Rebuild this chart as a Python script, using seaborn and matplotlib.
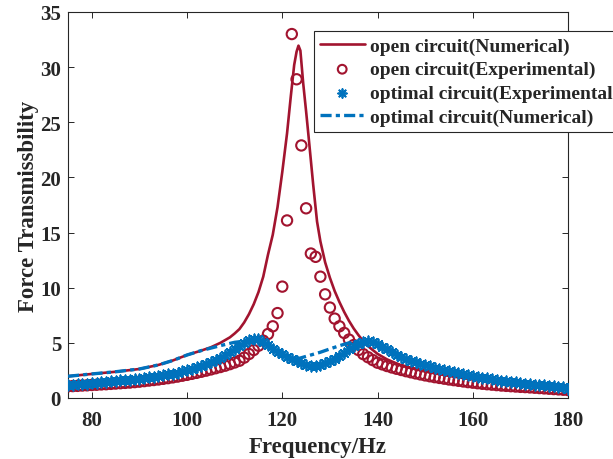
import numpy as np
import pandas as pd
import matplotlib
matplotlib.use("Agg")
import matplotlib.pyplot as plt
import seaborn as sns

# ---------------- data ----------------
freq_exp = list(range(75, 181))

open_exp = [
    1.06, 1.08, 1.10, 1.13, 1.15, 1.18, 1.20, 1.23, 1.25, 1.28,   # 75-84
    1.31, 1.34, 1.37, 1.40, 1.44, 1.48, 1.53, 1.58, 1.63, 1.68,   # 85-94
    1.74, 1.80, 1.87, 1.94, 2.02, 2.10, 2.19, 2.28, 2.38, 2.48,   # 95-104
    2.59, 2.70, 2.81, 2.93, 3.07, 3.22, 3.38, 3.66, 3.99, 4.35,   # 105-114
    4.74, 5.20, 5.80, 6.50, 7.70, 10.1, 16.1, 33.0, 28.9, 22.9,   # 115-124
    17.2, 13.1, 12.8, 11.0, 9.4, 8.2, 7.2, 6.5, 5.9, 5.3,         # 125-134
    4.8, 4.35, 3.98, 3.70, 3.44, 3.20, 3.05, 2.90, 2.77, 2.65,    # 135-144
    2.54, 2.43, 2.33, 2.23, 2.14, 2.05, 1.97, 1.89, 1.82, 1.75,   # 145-154
    1.68, 1.62, 1.56, 1.50, 1.44, 1.39, 1.34, 1.29, 1.25, 1.21,   # 155-164
    1.17, 1.13, 1.10, 1.07, 1.04, 1.01, 0.99, 0.96, 0.93, 0.90,   # 165-174
    0.87, 0.84, 0.81, 0.78, 0.75, 0.72,                           # 175-180
]

opt_exp = [
    1.15, 1.19, 1.23, 1.27, 1.31, 1.35, 1.39, 1.43, 1.47, 1.51,   # 75-84
    1.55, 1.59, 1.63, 1.67, 1.71, 1.75, 1.81, 1.87, 1.93, 2.00,   # 85-94
    2.07, 2.14, 2.22, 2.31, 2.41, 2.52, 2.64, 2.77, 2.92, 3.08,   # 95-104
    3.26, 3.45, 3.66, 3.90, 4.15, 4.45, 4.75, 5.02, 5.25, 5.38,   # 105-114
    5.32, 5.10, 4.80, 4.48, 4.20, 3.95, 3.75, 3.55, 3.35, 3.17,   # 115-124
    3.02, 2.93, 2.92, 3.00, 3.15, 3.35, 3.58, 3.82, 4.10, 4.40,   # 125-134
    4.68, 4.92, 5.10, 5.18, 5.10, 4.90, 4.65, 4.40, 4.16, 3.94,   # 135-144
    3.74, 3.56, 3.40, 3.25, 3.11, 2.98, 2.86, 2.74, 2.63, 2.52,   # 145-154
    2.42, 2.32, 2.23, 2.14, 2.06, 1.98, 1.91, 1.84, 1.77, 1.70,   # 155-164
    1.63, 1.57, 1.51, 1.46, 1.41, 1.36, 1.31, 1.26, 1.22, 1.18,   # 165-174
    1.14, 1.10, 1.06, 1.02, 0.98, 0.85,                           # 175-180
]

freq_open_num = [75, 80, 85, 90, 94, 97, 100, 103, 105, 107, 109, 110, 111, 112,
                 113, 114, 115, 116, 117, 118, 119, 120, 121, 121.8, 122.5, 123,
                 123.4, 123.8, 124.4, 125, 125.5, 126.5, 127.3, 128, 129, 130,
                 131, 132, 133, 134, 135, 136, 137, 138, 140, 142, 145, 150,
                 155, 160, 165, 170, 175, 180]
open_num = [1.97, 2.18, 2.38, 2.63, 3.0, 3.4, 3.9, 4.3, 4.6, 5.0, 5.5, 5.85, 6.25, 6.85,
            7.6, 8.5, 9.6, 11.0, 13.0, 14.8, 17.3, 20.5, 24.0, 27.4, 30.2, 31.4,
            31.95, 31.5, 28.5, 26.0, 23.8, 19.3, 16.0, 14.2, 12.3, 10.9,
            9.7, 8.7, 7.8, 7.0, 6.3, 5.7, 5.15, 4.7, 4.0, 3.5, 2.95, 2.4,
            2.0, 1.68, 1.42, 1.2, 1.0, 0.82]

freq_opt_num = [75, 80, 85, 90, 94, 97, 100, 103, 107, 110, 113, 115, 117, 119,
                121, 122.5, 124, 126, 128, 130, 132, 134, 136, 137.5, 139, 141,
                144, 147, 150, 155, 160, 165, 170, 175, 180]
opt_num = [1.97, 2.18, 2.38, 2.63, 3.0, 3.4, 3.9, 4.3, 4.75, 5.05, 5.2, 5.1, 4.7,
           4.15, 3.65, 3.48, 3.65, 3.9, 4.15, 4.45, 4.74, 5.0, 5.15, 5.18, 5.05,
           4.7, 4.05, 3.5, 3.05, 2.5, 2.05, 1.7, 1.42, 1.18, 0.97]

labels = ["open circuit(Numerical)", "open circuit(Experimental)",
          "optimal circuit(Experimental)", "optimal circuit(Numerical)"]
x_ticks = [80, 100, 120, 140, 160, 180]
y_ticks = [0, 5, 10, 15, 20, 25, 30, 35]

RED = "#A2142F"
BLUE = "#0072BD"

# ---------------- style ----------------
sns.set_theme(style="white")
plt.rcParams["font.family"] = ["Liberation Serif", "DejaVu Serif"]
plt.rcParams["font.weight"] = "bold"
plt.rcParams["axes.labelweight"] = "bold"
plt.rcParams["lines.scale_dashes"] = False

fig = plt.figure(figsize=(6.13, 4.60), dpi=100)
ax = fig.add_axes([68 / 613, 1 - 399 / 460, 500 / 613, 386 / 460])

sns.lineplot(x=freq_open_num, y=open_num, ax=ax, color=RED, linewidth=1.9,
             label=labels[0], zorder=2)
sns.scatterplot(x=freq_exp, y=open_exp, ax=ax, marker="o", s=55,
                facecolors="none", edgecolor=RED, color=RED, linewidth=1.5,
                label=labels[1], zorder=3)
sns.scatterplot(x=freq_exp, y=opt_exp, ax=ax, marker=(8, 2, 0), s=55,
                color=BLUE, linewidth=1.3, label=labels[2], zorder=4)
sns.lineplot(x=freq_opt_num, y=opt_num, ax=ax, color=BLUE, linewidth=2.4,
             linestyle=(0, (8, 3, 3, 3)), label=labels[3], zorder=5)

ax.set_xlim(75, 180)
ax.set_ylim(0, 35)
ax.set_xticks(x_ticks)
ax.set_yticks(y_ticks)
ax.set_xticklabels([str(v) for v in x_ticks], fontsize=15, fontweight="bold")
ax.set_yticklabels([str(v) for v in y_ticks], fontsize=15, fontweight="bold")
ax.tick_params(direction="in", length=4, width=0.7, top=True, right=True,
               bottom=True, left=True, colors="#262626")
ax.tick_params(axis="x", pad=9)
ax.tick_params(axis="y", pad=5)
for sp in ax.spines.values():
    sp.set_color("#262626")
    sp.set_linewidth(0.8)
    sp.set_visible(True)

ax.set_xlabel("Frequency/Hz", fontsize=16.5, fontweight="bold", labelpad=4)
ax.set_ylabel("Force Transmissbility", fontsize=16.5, fontweight="bold", labelpad=1)

leg = ax.legend(loc="upper left", bbox_to_anchor=(314 / 613, 1 - 32 / 460),
                bbox_transform=fig.transFigure, borderaxespad=0,
                prop={"family": "Liberation Serif", "weight": "bold", "size": 14},
                frameon=True, fancybox=False, framealpha=1, edgecolor="#262626",
                handlelength=2.3, handletextpad=0.3, labelspacing=0.32,
                borderpad=0.3, markerscale=0.85)
leg.get_frame().set_linewidth(0.8)

fig.savefig("out.png", dpi=100, facecolor="white")
